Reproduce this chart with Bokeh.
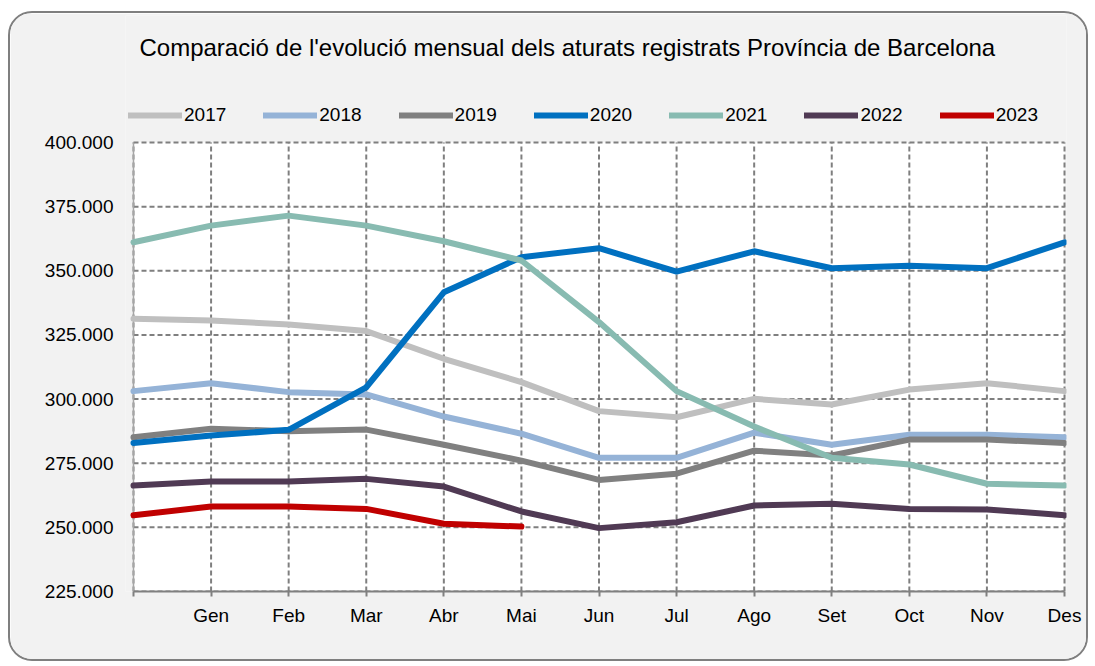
from bokeh.plotting import figure
from bokeh.models import FixedTicker, Legend, LegendItem, Label, BoxAnnotation
from bokeh.embed import file_html
from bokeh.resources import INLINE

# ---------------- data ----------------
months = ["", "Gen", "Feb", "Mar", "Abr", "Mai", "Jun", "Jul", "Ago", "Set", "Oct", "Nov", "Des"]
years = ["2017", "2018", "2019", "2020", "2021", "2022", "2023"]

a2017 = [331300, 330600, 329100, 326500, 315700, 306600, 295300, 292900, 300100, 297900, 303700, 306200, 303100]
a2018 = [303100, 306200, 302700, 301800, 293200, 286500, 277100, 277100, 286900, 282200, 286100, 286100, 285100]
a2019 = [285100, 288400, 287500, 288100, 282200, 276000, 268500, 270900, 279900, 278000, 284200, 284200, 282900]
a2020 = [282900, 285800, 288000, 304600, 341600, 355300, 358800, 349700, 357600, 351000, 352000, 351000, 361100]
a2021 = [361100, 367600, 371500, 367600, 361500, 354000, 330000, 303100, 289300, 277100, 274500, 267000, 266300]
a2022 = [266300, 267900, 267900, 268900, 265900, 256200, 249700, 252000, 258500, 259200, 257200, 257000, 254700]
a2023 = [254700, 258100, 258100, 257200, 251400, 250300]

y_ticks = [225000, 250000, 275000, 300000, 325000, 350000, 375000, 400000]
y_tick_labels = ["225.000", "250.000", "275.000", "300.000", "325.000", "350.000", "375.000", "400.000"]

colors = ["#BFBFBF", "#95B3D7", "#808080", "#0070C0", "#88BBB1", "#503A54", "#C00000"]
series = [a2017, a2018, a2019, a2020, a2021, a2022, a2023]

title_text = "Comparació de l'evolució mensual dels aturats registrats Província de Barcelona"
FONT = "Liberation Sans"

# ---------------- layout geometry (page pixels) ----------------
CANVAS_X, CANVAS_Y = 10, 13          # canvas origin on the page
PLOT_L, PLOT_R, PLOT_T, PLOT_B = 133, 1064, 142, 591   # white plot area
FRAME_L, FRAME_R, FRAME_T = 125, 1066, 15
W, H = 1080, 650

x_ticks = list(range(len(months)))
x0, x1 = x_ticks[0], x_ticks[-1]
y0, y1 = y_ticks[0], y_ticks[-1]
ppx = (PLOT_R - PLOT_L) / (x1 - x0)      # pixels per x unit
ppy = (PLOT_B - PLOT_T) / (y1 - y0)      # pixels per y unit


def px_x(px):
    return x0 + (px - PLOT_L) / ppx


def px_y(py):
    return y0 + (PLOT_B - py) / ppy


p = figure(
    width=W, height=H,
    x_range=(px_x(FRAME_L), px_x(FRAME_R)), y_range=(y0, px_y(FRAME_T)),
    output_backend="svg", toolbar_location=None,
    min_border_left=FRAME_L - CANVAS_X, min_border_right=W - (FRAME_R - CANVAS_X),
    min_border_top=FRAME_T - CANVAS_Y, min_border_bottom=H - (PLOT_B - CANVAS_Y),
    background_fill_color="#F2F2F2", border_fill_color="#F2F2F2",
    styles={"border": "2px solid #7F7F7F", "border-radius": "24px",
            "overflow": "hidden", "margin-top": "11px", "margin-left": "8px"},
)
p.outline_line_color = None
p.xgrid.visible = False
p.ygrid.visible = False

# white plot area
p.add_layout(BoxAnnotation(left=x0, right=x1, bottom=y0, top=y1,
                           fill_color="white", fill_alpha=1, line_color=None,
                           level="image"))

# dashed gridlines from the tick arrays
grid_kw = dict(line_color="#7F7F7F", line_width=2, line_dash="5 3")
p.segment(x0=x_ticks, y0=[y0] * len(x_ticks), x1=x_ticks, y1=[y1] * len(x_ticks), **grid_kw)
p.segment(x0=[x0] * len(y_ticks), y0=y_ticks, x1=[x1] * len(y_ticks), y1=y_ticks, **grid_kw)
# left axis line
p.segment(x0=[x0], y0=[y0], x1=[x0], y1=[y1], line_color="#A6A6A6", line_width=1.5)

# x axis
xa = p.xaxis[0]
xa.ticker = FixedTicker(ticks=x_ticks)
xa.bounds = (x0, x1)
xa.major_label_overrides = {i: m for i, m in enumerate(months)}
xa.axis_line_color = "#808080"
xa.axis_line_width = 2
xa.major_tick_line_color = "#808080"
xa.major_tick_line_width = 2
xa.major_tick_out = 5
xa.major_tick_in = 0
xa.minor_tick_line_color = None
xa.major_label_standoff = 8
xa.major_label_text_font = FONT
xa.major_label_text_font_size = "19px"
xa.major_label_text_color = "black"

# y axis
ya = p.yaxis[0]
ya.ticker = FixedTicker(ticks=y_ticks)
ya.bounds = (y0, y1)
ya.major_label_overrides = {t: s for t, s in zip(y_ticks, y_tick_labels)}
ya.axis_line_color = None
ya.major_tick_line_color = None
ya.major_tick_out = 0
ya.major_tick_in = 0
ya.minor_tick_line_color = None
ya.major_label_standoff = FRAME_L - 113
ya.major_label_text_font = FONT
ya.major_label_text_font_size = "19px"
ya.major_label_text_color = "black"

# series lines
items = []
for name, vals, col in zip(years, series, colors):
    r = p.line(x_ticks[:len(vals)], vals, line_color=col, line_width=6,
               line_cap="round", line_join="round")
    items.append(LegendItem(label=name, renderers=[r]))

legend = Legend(
    items=items, orientation="horizontal",
    location=(128 - FRAME_L, PLOT_B - 126),
    glyph_width=54, glyph_height=20, label_width=42, label_height=20,
    label_standoff=2, spacing=37, padding=0, margin=0,
    label_text_font=FONT, label_text_font_size="19px", label_text_color="black",
    background_fill_alpha=0, border_line_color=None,
)
p.add_layout(legend, "center")

title = Label(
    x=px_x(139), y=px_y(47), text=title_text,
    text_font=FONT, text_font_size="24px", text_color="black",
    text_align="left", text_baseline="middle",
)
p.add_layout(title)

open("out.html", "w").write(file_html(p, INLINE))
